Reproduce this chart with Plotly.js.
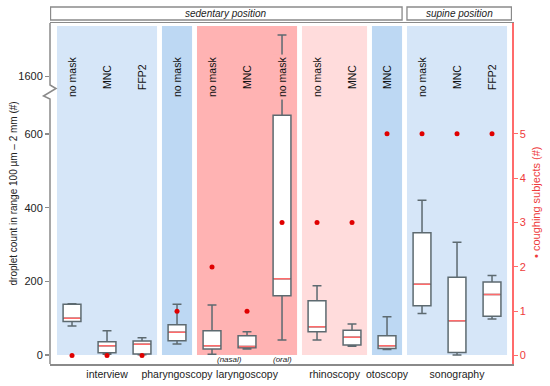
<!DOCTYPE html>
<html>
<head>
<meta charset="utf-8">
<script src="https://cdn.plot.ly/plotly-3.0.1.min.js"></script>
<style>html,body{margin:0;padding:0;background:#fff}#chart{width:550px;height:386px}</style>
</head>
<body>
<div id="chart"></div>
<script>
// ---- data ----
const colLabels = ['no mask','MNC','FFP2','no mask','no mask','MNC','no mask','no mask','MNC','MNC','no mask','MNC','FFP2'];
const lowerWhisker = [79, 2, 1, 30, 2, 16, 41, 41, 24, 15, 113, 0, 98];
const q1Values     = [91, 6, 3, 39, 16, 20, 161, 63, 27, 18, 134, 7, 105];
const medianValues = [100, 25, 29, 62, 25, 23, 207, 77, 48, 25, 192, 93, 164];
const q3Values     = [138, 36, 38, 82, 66, 52, 651, 147, 67, 52, 332, 211, 198];
const upperWhisker = [139, 66, 47, 138, 136, 63, 1712, 188, 84, 104, 420, 306, 216];
const coughingSubjects = [0, 0, 0, 1, 2, 1, 3, 3, 3, 5, 5, 5, 5];

const groupNames = ['interview','pharyngoscopy','laryngoscopy','rhinoscopy','otoscopy','sonography'];
const groupCols = [[1,2,3],[4],[5,6,7],[8,9],[10],[11,12,13]];
const groupColors = ['#d6e6f8','#bdd8f3','#ffb3b3','#ffdcdc','#bdd8f3','#d6e6f8'];
const subLabels = [{text:'(nasal)', cols:[5,6]}, {text:'(oral)', cols:[7]}];
const positions = [{text:'sedentary position', groups:[0,4]}, {text:'supine position', groups:[5,5]}];

const yTickValues = [0, 200, 400, 600, 1600];
const rightTickValues = [0, 1, 2, 3, 4, 5];
const leftTitle = 'droplet count in range 100 µm – 2 mm (#)';
const rightTitle = '• coughing subjects (#)';

// broken axis: values above the break are shifted down
const BREAK_SHIFT = 843;
const yt = v => (v > 1000 ? v - BREAK_SHIFT : v);

const xPos = colLabels.map((_, i) => i + 1);
const xRange = [0.371, 13.571];
const yRange = [-24.4, 901.4];
const y2Range = [-0.19, 7.5];
const halfPanel = 0.43;

const FONT = '"Liberation Sans", Arial, sans-serif';
const GRAY = '#8a8a8a';
const RED = '#ee3b3b';

const traces = [
  {
    type: 'box', x: xPos,
    lowerfence: lowerWhisker.map(yt), q1: q1Values.map(yt), median: medianValues.map(yt),
    q3: q3Values.map(yt), upperfence: upperWhisker.map(yt),
    width: 0.51, whiskerwidth: 0.5, fillcolor: '#ffffff',
    line: {color: '#5d6a70', width: 1.5},
    boxpoints: false, hoverinfo: 'skip', showlegend: false
  },
  {
    type: 'box', x: xPos,
    lowerfence: medianValues.map(yt), q1: medianValues.map(yt), median: medianValues.map(yt),
    q3: medianValues.map(yt), upperfence: medianValues.map(yt),
    width: 0.46, whiskerwidth: 0, fillcolor: 'rgba(0,0,0,0)',
    line: {color: '#ff6b6b', width: 1.5},
    boxpoints: false, hoverinfo: 'skip', showlegend: false
  },
  {
    type: 'scatter', mode: 'markers', x: xPos, y: coughingSubjects, yaxis: 'y2',
    marker: {color: '#e00000', size: 5}, hoverinfo: 'skip', showlegend: false
  }
];

const shapes = [];
const annotations = [];
const W = 462, H = 341;
const px = x => (x - 50) / W, py = y => (364 - y) / H;

// panels
groupCols.forEach((cols, g) => {
  shapes.push({
    type: 'rect', layer: 'below', xref: 'x', yref: 'y',
    x0: cols[0] - halfPanel, x1: cols[cols.length - 1] + halfPanel,
    y0: 0, y1: 893, fillcolor: groupColors[g], line: {width: 0}
  });
});

// column labels
colLabels.forEach((lab, i) => {
  const isOral = i === 6;
  annotations.push({
    text: lab, x: xPos[i], xref: 'x', y: 0.8416, yref: 'paper',
    xanchor: 'center', yanchor: 'middle',
    textangle: -90, showarrow: false, font: {family: FONT, size: 10.5, color: '#111'},
    bgcolor: isOral ? groupColors[2] : 'rgba(0,0,0,0)', borderpad: 2
  });
});

// sub labels
subLabels.forEach(s => {
  const cx = s.cols.reduce((a, b) => a + b, 0) / s.cols.length;
  annotations.push({
    text: '<i>' + s.text + '</i>', x: cx, xref: 'x', y: -13.5, yref: 'y',
    xanchor: 'center', yanchor: 'middle',
    showarrow: false, font: {family: FONT, size: 8, color: '#222'}
  });
});

// header boxes
positions.forEach(p => {
  const firstCols = groupCols[p.groups[0]], lastCols = groupCols[p.groups[1]];
  let x0 = p.groups[0] === 0 ? xRange[0] + 0.015 : firstCols[0] - halfPanel;
  let x1 = p.groups[1] === groupCols.length - 1 ? xRange[1] - 0.015 : lastCols[lastCols.length - 1] + halfPanel;
  shapes.push({
    type: 'rect', xref: 'x', yref: 'paper', x0: x0, x1: x1, y0: 1.0088, y1: 1.0469,
    line: {color: GRAY, width: 1.3}, fillcolor: 'rgba(0,0,0,0)'
  });
  annotations.push({
    text: '<i>' + p.text + '</i>', x: (x0 + x1) / 2, xref: 'x', y: 1.0279, yref: 'paper',
    xanchor: 'center', yanchor: 'middle',
    showarrow: false, font: {family: FONT, size: 10, color: '#222'}
  });
});

// axis titles
annotations.push({
  text: leftTitle, x: px(13), xref: 'paper', y: 0.5, yref: 'paper',
  xanchor: 'center', yanchor: 'middle', textangle: -90, showarrow: false,
  font: {family: FONT, size: 10, color: '#222'}
});
annotations.push({
  text: rightTitle, x: px(536), xref: 'paper', y: py(203), yref: 'paper',
  xanchor: 'center', yanchor: 'middle', textangle: -90, showarrow: false,
  font: {family: FONT, size: 11, color: RED}
});

// left axis line with break zigzag
shapes.push({
  type: 'path', xref: 'paper', yref: 'paper',
  path: `M ${px(50)},${py(23)} L ${px(50)},${py(85)} L ${px(56)},${py(88.5)} L ${px(43.5)},${py(96)} L ${px(50)},${py(99)} L ${px(50)},${py(364)}`,
  line: {color: GRAY, width: 1.5}
});

const layout = {
  width: 550, height: 386,
  margin: {l: 50, r: 38, t: 23, b: 22},
  paper_bgcolor: '#ffffff', plot_bgcolor: '#ffffff',
  boxmode: 'overlay',
  showlegend: false,
  font: {family: FONT, size: 11, color: '#222'},
  xaxis: {
    range: xRange, showgrid: false, zeroline: false,
    showline: true, mirror: true, linecolor: GRAY, linewidth: 1.5,
    tickvals: groupCols.map(c => c.reduce((a, b) => a + b, 0) / c.length),
    ticktext: groupNames, ticks: '', ticklen: 0, tickangle: 0,
    tickfont: {family: FONT, size: 10.5, color: '#222'}
  },
  yaxis: {
    range: yRange, showgrid: false, zeroline: false, showline: false,
    tickvals: yTickValues.map(yt), ticktext: yTickValues.map(String),
    ticks: 'outside', ticklen: 4, tickcolor: GRAY, tickwidth: 1.2,
    tickfont: {family: FONT, size: 11, color: '#222'}
  },
  yaxis2: {
    overlaying: 'y', side: 'right', range: y2Range,
    showgrid: false, zeroline: false, showline: true, linecolor: '#ff6b6b', linewidth: 1.5,
    tickvals: rightTickValues, ticks: 'outside', ticklen: 4, tickcolor: '#ff6b6b', tickwidth: 1.2,
    tickfont: {family: FONT, size: 11, color: RED}
  },
  shapes: shapes,
  annotations: annotations
};

Plotly.newPlot('chart', traces, layout, {displayModeBar: false, staticPlot: true});
</script>
</body>
</html>
